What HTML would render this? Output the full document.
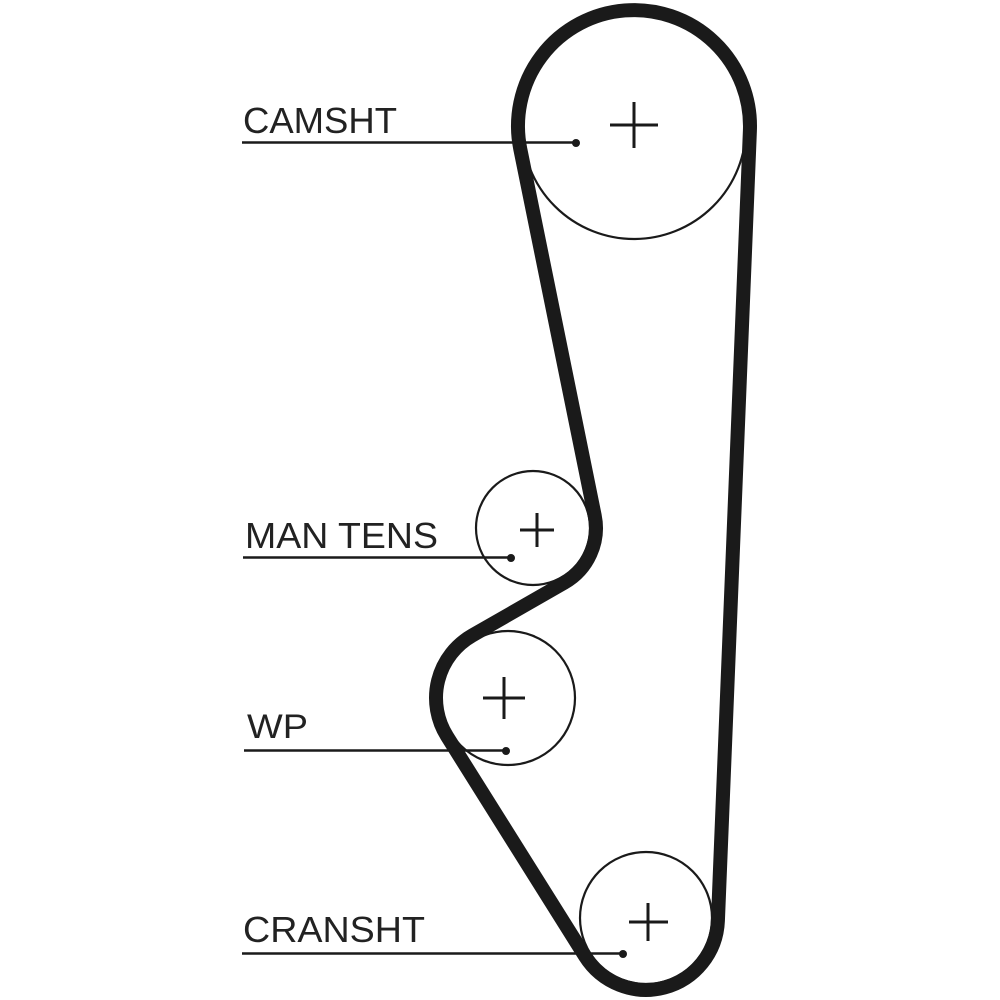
<!DOCTYPE html>
<html>
<head>
<meta charset="utf-8">
<style>
  html, body { margin: 0; padding: 0; background: #ffffff; }
  svg { display: block; }
  text { font-family: "Liberation Sans", Arial, sans-serif; fill: #222; }
</style>
</head>
<body>
<svg width="1000" height="1000" viewBox="0 0 1000 1000" xmlns="http://www.w3.org/2000/svg">
  <rect width="1000" height="1000" fill="#ffffff"/>

  <!-- pulleys (thin circles) -->
  <g fill="none" stroke="#1a1a1a" stroke-width="2.2">
    <circle cx="634" cy="127" r="112"/>
    <circle cx="533" cy="528" r="57"/>
    <circle cx="508" cy="698" r="67"/>
    <circle cx="646" cy="918" r="66"/>
  </g>

  <!-- belt -->
  <path d="M749.9,130.7
           A116,116 0 1 0 520.3,149.1
           L594.7,515.5
           A63,63 0 0 1 564.3,582.7
           L472.2,635.5
           A72,72 0 0 0 447,736.2
           L585,956.2
           A72,72 0 0 0 717.9,920.9
           Z"
        fill="none" stroke="#1a1a1a" stroke-width="14" stroke-linejoin="round"/>

  <!-- center crosses -->
  <g stroke="#1a1a1a" stroke-width="3">
    <line x1="610" y1="125" x2="658" y2="125"/>
    <line x1="634" y1="102" x2="634" y2="148"/>

    <line x1="520" y1="530" x2="554" y2="530"/>
    <line x1="537" y1="513" x2="537" y2="547"/>

    <line x1="483" y1="698" x2="525" y2="698"/>
    <line x1="504" y1="677" x2="504" y2="719"/>

    <line x1="629" y1="922" x2="668" y2="922"/>
    <line x1="648" y1="903" x2="648" y2="941"/>
  </g>

  <!-- leader lines -->
  <g stroke="#1a1a1a" stroke-width="2.5">
    <line x1="242" y1="142.5" x2="576" y2="142.5"/>
    <line x1="243" y1="557.5" x2="511" y2="557.5"/>
    <line x1="244" y1="750.5" x2="506" y2="750.5"/>
    <line x1="242" y1="953.5" x2="623" y2="953.5"/>
  </g>
  <g fill="#1a1a1a">
    <circle cx="576" cy="143" r="4"/>
    <circle cx="511" cy="558" r="4"/>
    <circle cx="506" cy="751" r="4"/>
    <circle cx="623" cy="954" r="4"/>
  </g>

  <!-- labels -->
  <text x="243" y="133" font-size="36" textLength="154" lengthAdjust="spacingAndGlyphs">CAMSHT</text>
  <text x="245" y="548" font-size="36" textLength="193" lengthAdjust="spacingAndGlyphs">MAN TENS</text>
  <text x="247" y="738" font-size="34" textLength="61" lengthAdjust="spacingAndGlyphs">WP</text>
  <text x="243" y="942" font-size="36" textLength="182" lengthAdjust="spacingAndGlyphs">CRANSHT</text>
</svg>
</body>
</html>
